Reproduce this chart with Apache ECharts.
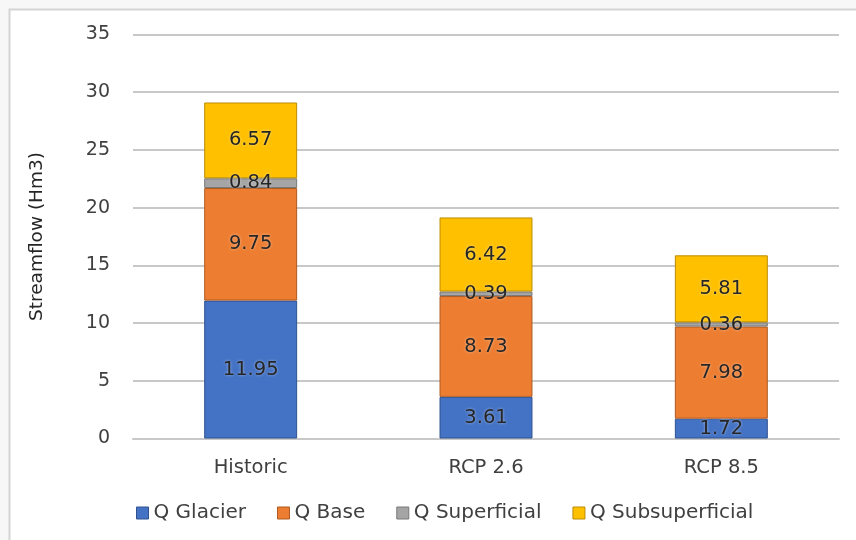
<!DOCTYPE html>
<html>
<head>
<meta charset="utf-8">
<script src="https://cdn.jsdelivr.net/npm/echarts@6/dist/echarts.min.js"></script>
<style>
  html, body { margin: 0; padding: 0; background: #f7f7f7; }
  #chart { width: 856px; height: 540px; }
</style>
</head>
<body>
<div id="chart"></div>
<script>
// Streamflow components per scenario (Hm3)
const categories = ['Historic', 'RCP 2.6', 'RCP 8.5'];
const seriesNames = ['Q Glacier', 'Q Base', 'Q Superficial', 'Q Subsuperficial'];
const qGlacier = [11.95, 3.61, 1.72];
const qBase = [9.75, 8.73, 7.98];
const qSuperficial = [0.84, 0.39, 0.36];
const qSubsuperficial = [6.57, 6.42, 5.81];
const yTicks = { min: 0, max: 35, interval: 5 };

const fills = ['#4472C4', '#ED7D31', '#A5A5A5', '#FFC000'];
const edges = ['#2F528F', '#AE5A21', '#787878', '#BC8C00'];
const values = [qGlacier, qBase, qSuperficial, qSubsuperficial];

const font = '"DejaVu Sans", "Noto Sans", sans-serif';

const chart = echarts.init(document.getElementById('chart'));
chart.setOption({
  backgroundColor: '#f7f7f7',
  animation: false,
  graphic: [{
    type: 'rect',
    shape: { x: 9.5, y: 9.5, width: 860, height: 540 },
    style: { fill: '#ffffff', stroke: '#d4d4d4', lineWidth: 2 },
    z: -10
  }],
  grid: { left: 133, right: 17, top: 34.5, bottom: 101.5 },
  legend: {
    top: 498,
    left: 131,
    itemWidth: 12,
    itemHeight: 12,
    itemGap: 31,
    textStyle: { fontFamily: font, fontSize: 20, color: '#404040' },
    data: seriesNames.map((n, i) => ({
      name: n,
      icon: 'rect',
      itemStyle: { color: fills[i], borderColor: edges[i], borderWidth: 1 }
    }))
  },
  xAxis: {
    type: 'category',
    data: categories,
    axisTick: { show: false },
    axisLine: { lineStyle: { color: '#c8c8c8', width: 2 } },
    axisLabel: { fontFamily: font, fontSize: 19.5, color: '#404040', margin: 19 }
  },
  yAxis: {
    type: 'value',
    min: yTicks.min,
    max: yTicks.max,
    interval: yTicks.interval,
    name: 'Streamflow (Hm3)',
    nameLocation: 'middle',
    nameGap: 86,
    nameTextStyle: { fontFamily: font, fontSize: 18.5, color: '#262626' },
    axisLine: { show: false },
    axisTick: { show: false },
    axisLabel: { fontFamily: font, fontSize: 19, color: '#404040', margin: 23 },
    splitLine: { lineStyle: { color: '#c8c8c8', width: 2 } }
  },
  series: seriesNames.map((n, i) => ({
    name: n,
    type: 'bar',
    stack: 'total',
    barWidth: '39.5%',
    data: values[i],
    itemStyle: { color: fills[i], borderColor: edges[i], borderWidth: 1 },
    label: {
      show: true,
      position: 'inside',
      fontFamily: font,
      fontSize: 19.5,
      color: '#262626',
      textShadowColor: 'rgba(255,255,255,0.5)',
      textShadowBlur: 3
    }
  }))
});
</script>
</body>
</html>
